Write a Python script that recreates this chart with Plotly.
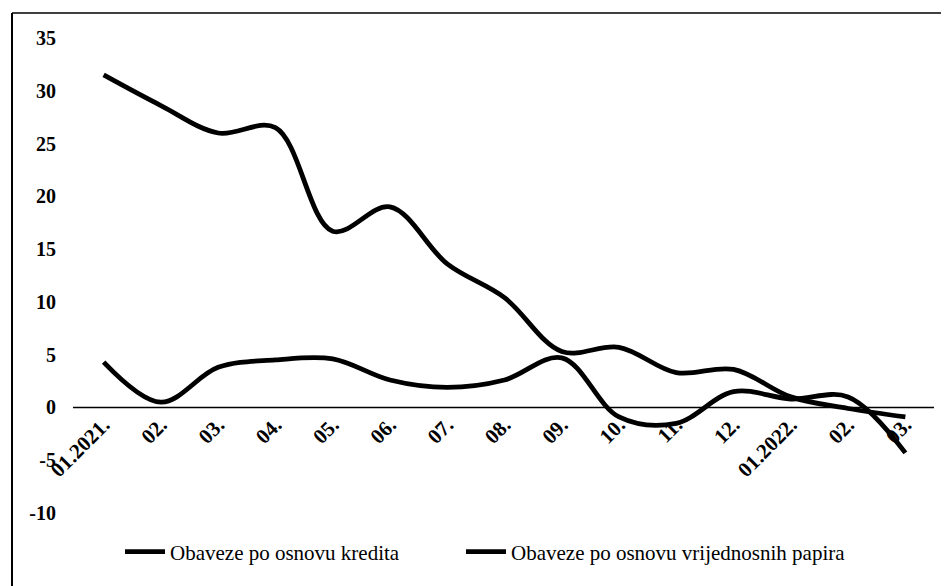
import plotly.graph_objects as go

categories = ["01.2021.", "02.", "03.", "04.", "05.", "06.", "07.", "08.", "09.",
              "10.", "11.", "12.", "01.2022.", "02.", "03."]
kredita = [31.5, 28.6, 26.0, 26.5, 16.7, 19.0, 13.6, 10.4, 5.3, 5.7, 3.3, 3.6, 1.0, -0.1, -0.9]
vrijednosni = [4.3, 0.5, 3.8, 4.5, 4.6, 2.6, 1.9, 2.6, 4.7, -0.9, -1.5, 1.5, 0.8, 1.0, -4.3]
series_names = ["Obaveze po osnovu kredita", "Obaveze po osnovu vrijednosnih papira"]
y_ticks = [35, 30, 25, 20, 15, 10, 5, 0, -5, -10]

# page has an 8px body margin; figure is sized so it ends at the window edge
OFF = 8
W, H = 949 - OFF, 586 - OFF
PL, PR, PT, PB = 75, 934, 38, 513          # plot area in page pixels
L, R, T, B = PL - OFF, W - (PR - OFF), PT - OFF, H - (PB - OFF)
pw = PR - PL
ph = PB - PT

def px_x(page_x):
    return (page_x - PL) / pw

def px_y(page_y):
    return (PB - page_y) / ph

x_idx = list(range(len(categories)))

fig = go.Figure()
for name, vals, lg in zip(series_names, [kredita, vrijednosni], ["legend", "legend2"]):
    fig.add_trace(go.Scatter(
        x=x_idx, y=vals, name=name, mode="lines", legend=lg,
        line=dict(color="black", width=4.8, shape="spline", smoothing=1.0),
    ))

legend_font = dict(family="Liberation Serif", size=21, color="black")

fig.update_layout(
    width=W, height=H,
    margin=dict(l=L, r=R, t=T, b=B),
    paper_bgcolor="white", plot_bgcolor="white",
    font=dict(family="Liberation Serif", color="black"),
    showlegend=True,
    legend=dict(
        orientation="h", x=px_x(120), xanchor="left",
        y=px_y(552), yanchor="middle",
        font=legend_font, itemwidth=40, bgcolor="rgba(0,0,0,0)",
    ),
    legend2=dict(
        orientation="h", x=px_x(461), xanchor="left",
        y=px_y(552), yanchor="middle",
        font=legend_font, itemwidth=40, bgcolor="rgba(0,0,0,0)",
    ),
    xaxis=dict(
        range=[-0.5, 14.5], tickmode="array", tickvals=x_idx, ticktext=categories,
        tickangle=-45, showgrid=False, zeroline=False, showline=False,
        anchor="free", position=10 / 45, automargin=False,
        tickfont=dict(family="Liberation Serif", size=21, color="black", weight="bold"),
        ticks="",
    ),
    yaxis=dict(
        range=[-10, 35], tickmode="array", tickvals=y_ticks,
        ticktext=[str(v) for v in y_ticks],
        showgrid=False, zeroline=False, showline=False, ticks="",
        ticklabelstandoff=18, automargin=False,
        tickfont=dict(family="Liberation Serif", size=20, color="black", weight="bold"),
    ),
    shapes=[
        # zero line
        dict(type="line", xref="paper", yref="y", x0=px_x(73), x1=1.0, y0=0, y1=0,
             line=dict(color="black", width=1.5), layer="below"),
        # outer frame (left and top edges)
        dict(type="line", xref="paper", yref="paper",
             x0=px_x(12), x1=px_x(12), y0=px_y(600), y1=px_y(13),
             line=dict(color="black", width=2)),
        dict(type="line", xref="paper", yref="paper",
             x0=px_x(12), x1=px_x(960), y0=px_y(13), y1=px_y(13),
             line=dict(color="black", width=1.5)),
    ],
)

fig.write_html("out.html")
